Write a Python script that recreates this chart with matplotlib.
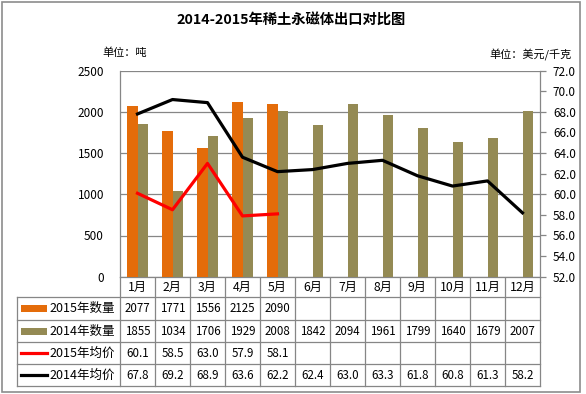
import matplotlib
matplotlib.use("Agg")
import matplotlib.pyplot as plt
from matplotlib.patches import Rectangle

plt.rcParams['font.family'] = ['Noto Sans CJK SC', 'DejaVu Sans']

months = ['1月', '2月', '3月', '4月', '5月', '6月', '7月', '8月', '9月', '10月', '11月', '12月']
qty_2015 = [2077, 1771, 1556, 2125, 2090]
qty_2014 = [1855, 1034, 1706, 1929, 2008, 1842, 2094, 1961, 1799, 1640, 1679, 2007]
price_2015 = [60.1, 58.5, 63.0, 57.9, 58.1]
price_2014 = [67.8, 69.2, 68.9, 63.6, 62.2, 62.4, 63.0, 63.3, 61.8, 60.8, 61.3, 58.2]
row_labels = ['2015年数量', '2014年数量', '2015年均价', '2014年均价']
title = '2014-2015年稀土永磁体出口对比图'
left_unit = '单位：吨'
right_unit = '单位：美元/千克'

c_orange = '#E46C0A'
c_olive = '#948A54'
c_grid = '#868686'

W, H = 586, 394
fig = plt.figure(figsize=(W / 100, H / 100), dpi=100)

# plot area in pixels
pl, pr, pt, pb = 120, 540, 70.7, 276.7
ax = fig.add_axes([pl / W, 1 - pb / H, (pr - pl) / W, (pb - pt) / H], zorder=2)

# overlay in pixel coords for table / frame / labels
ov = fig.add_axes([0, 0, 1, 1], zorder=1)
ov.set_xlim(0, W)
ov.set_ylim(H, 0)
ov.axis('off')

n = len(months)
x = list(range(n))
bw = 0.286
ax.bar([i - bw / 2 for i in range(len(qty_2015))], qty_2015, width=bw, color=c_orange, zorder=3)
ax.bar([i + bw / 2 for i in range(len(qty_2014))], qty_2014, width=bw, color=c_olive, zorder=3)
ax.set_xlim(-0.5, n - 0.5)
ax.set_ylim(0, 2500)
ax.set_yticks(range(0, 2501, 500))
ax.set_xticks([])
ax.tick_params(axis='y', length=0, pad=11.5, labelsize=8.5)
ax.grid(axis='y', color=c_grid, lw=0.9, zorder=0)
ax.set_axisbelow(True)
for s in ['top', 'right']:
    ax.spines[s].set_visible(False)
for s in ['left', 'bottom']:
    ax.spines[s].set_color(c_grid)
    ax.spines[s].set_linewidth(0.9)

ax2 = ax.twinx()
ax2.plot(x, price_2014, color='black', lw=2.3, solid_joinstyle='round')
ax2.plot(x[:len(price_2015)], price_2015, color='#FF0000', lw=2.3, solid_joinstyle='round')
ax2.set_ylim(52, 72)
ax2.set_yticks([52 + 2 * k for k in range(11)])
ax2.set_yticklabels(['%.1f' % (52 + 2 * k) for k in range(11)])
ax2.tick_params(axis='y', length=4.3, width=0.9, color=c_grid, pad=5, labelsize=8.5)
for s in ['top', 'left', 'bottom']:
    ax2.spines[s].set_visible(False)
ax2.spines['right'].set_color(c_grid)
ax2.spines['right'].set_linewidth(0.9)

# title and units
ov.text(291, 20, title, ha='center', va='center', fontsize=10.3, fontweight='bold')
ov.text(125, 53, left_unit, ha='center', va='center', fontsize=8)
ov.text(531, 55, right_unit, ha='center', va='center', fontsize=8)

# data table
cw = (pr - pl) / n
row_y = [pb, 297, 320, 342, 364, 386]
tl = 17
for k in range(n + 1):
    ov.plot([pl + k * cw] * 2, [pb, row_y[-1]], color=c_grid, lw=0.9)
ov.plot([tl, tl], [row_y[1], row_y[-1]], color=c_grid, lw=0.9)
for y in row_y[1:]:
    ov.plot([tl, pr], [y, y], color=c_grid, lw=0.9)

for k, m in enumerate(months):
    ov.text(pl + (k + 0.5) * cw, (row_y[0] + row_y[1]) / 2 + 0.5, m,
            ha='center', va='center', fontsize=8.8)

table_rows = [
    [str(v) for v in qty_2015],
    [str(v) for v in qty_2014],
    ['%.1f' % v for v in price_2015],
    ['%.1f' % v for v in price_2014],
]
for r, vals in enumerate(table_rows):
    yc = (row_y[r + 1] + row_y[r + 2]) / 2 + 0.5
    for k, v in enumerate(vals):
        ov.text(pl + (k + 0.5) * cw, yc, v, ha='center', va='center', fontsize=8.3)
    ov.text(49, yc - 0.5, row_labels[r], ha='left', va='center', fontsize=9)

# legend keys in the table
keys = [('bar', c_orange), ('bar', c_olive), ('line', '#FF0000'), ('line', 'black')]
for r, (kind, col) in enumerate(keys):
    yc = (row_y[r + 1] + row_y[r + 2]) / 2
    if kind == 'bar':
        ov.add_patch(Rectangle((21, yc - 3.5), 26, 7, color=col, lw=0))
    else:
        ov.plot([21, 47], [yc, yc], color=col, lw=2.3)

# chart border
ov.add_patch(Rectangle((1.5, 1.5), 578, 390, fill=False, ec='#8C8C8C', lw=1.2))

fig.savefig('out.png', dpi=100)
